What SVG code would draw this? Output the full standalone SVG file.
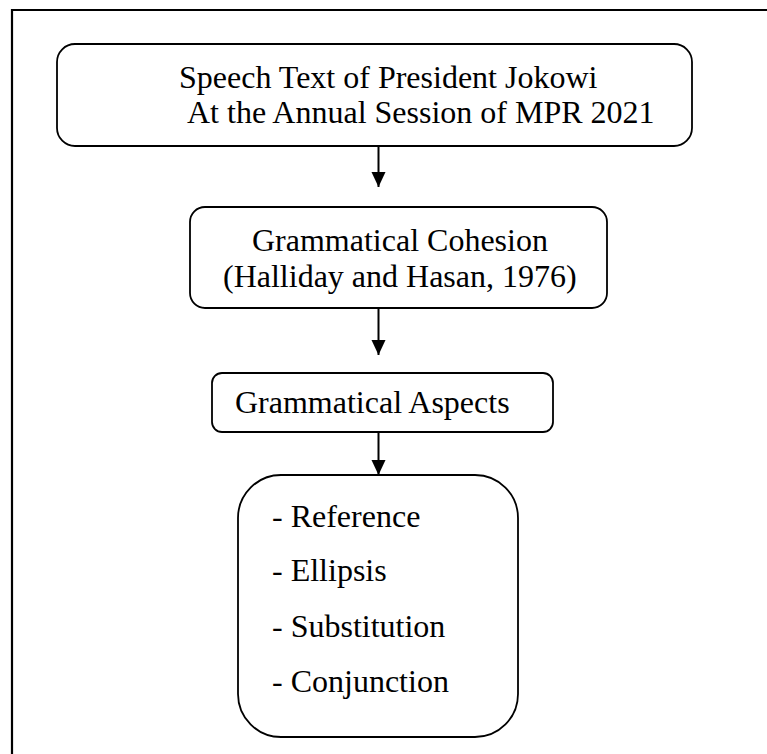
<svg xmlns="http://www.w3.org/2000/svg" width="767" height="754" viewBox="0 0 767 754">
  <style>
    .box { fill: #ffffff; stroke: #000000; stroke-width: 1.8; }
    .lbl { font-family: "Liberation Serif", "Times New Roman", serif; font-size: 32px; fill: #000000; }
    .conn { stroke: #000000; stroke-width: 2; fill: none; }
    .frame { stroke: #000000; stroke-width: 2.2; fill: none; }
  </style>
  <defs>
    <marker id="arrow" markerUnits="userSpaceOnUse" markerWidth="16" markerHeight="16" viewBox="0 0 16 16" refX="15" refY="8" orient="auto">
      <path d="M0,1 L15,8 L0,15 Z" fill="#000000"/>
    </marker>
  </defs>
  <rect x="0" y="0" width="767" height="754" fill="#ffffff"/>
  <path class="frame" d="M12,754 L12,10 L767,10"/>

  <g id="node-speech">
    <rect class="box" x="57" y="44" width="635" height="102" rx="18" ry="18"/>
    <text class="lbl" x="179" y="88">Speech Text of President Jokowi</text>
    <text class="lbl" x="187" y="123">At the Annual Session of MPR 2021</text>
  </g>

  <g id="node-cohesion">
    <rect class="box" x="190" y="207" width="417" height="101" rx="15" ry="15"/>
    <text class="lbl" x="252" y="251">Grammatical Cohesion</text>
    <text class="lbl" x="223" y="287">(Halliday and Hasan, 1976)</text>
  </g>

  <g id="node-aspects">
    <rect class="box" x="212" y="373" width="341" height="59" rx="10" ry="10"/>
    <text class="lbl" x="235" y="413">Grammatical Aspects</text>
  </g>

  <g id="node-list">
    <rect class="box" x="238" y="475" width="280" height="262" rx="43" ry="43"/>
    <text class="lbl" x="272" y="527">- Reference</text>
    <text class="lbl" x="272" y="581">- Ellipsis</text>
    <text class="lbl" x="272" y="637">- Substitution</text>
    <text class="lbl" x="272" y="692">- Conjunction</text>
  </g>

  <g id="connectors">
    <line class="conn" x1="378.5" y1="146" x2="378.5" y2="187" marker-end="url(#arrow)"/>
    <line class="conn" x1="378.5" y1="308" x2="378.5" y2="355" marker-end="url(#arrow)"/>
    <line class="conn" x1="378.5" y1="432" x2="378.5" y2="475" marker-end="url(#arrow)"/>
  </g>
</svg>
